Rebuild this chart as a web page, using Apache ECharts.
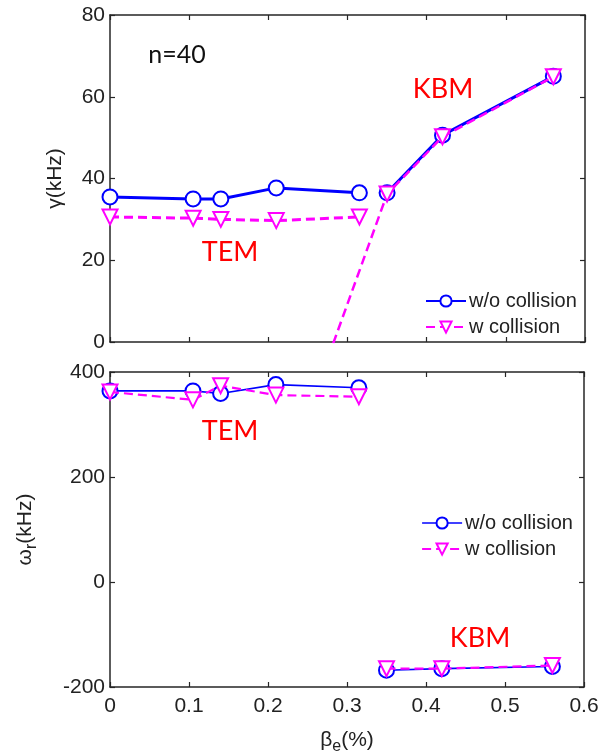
<!DOCTYPE html>
<html>
<head>
<meta charset="utf-8">
<script src="https://cdn.jsdelivr.net/npm/echarts@6/dist/echarts.min.js"></script>
<style>
  html, body { margin: 0; padding: 0; background: #fff; }
  #chart { width: 602px; height: 756px; }
</style>
</head>
<body>
<div id="chart"></div>
<script>
// beta_e (%) sampled for the two branches
const betaTEM = [0, 0.105, 0.14, 0.21, 0.315];
const betaKBM = [0.35, 0.42, 0.56];
// growth rate gamma (kHz)
const gammaNoColTEM = [35.5, 35.0, 35.0, 37.7, 36.5];
const gammaNoColKBM = [36.5, 50.6, 65.0];
const gammaColTEM = [30.6, 30.3, 30.0, 29.7, 30.6];
const gammaColLeadBeta = [0.21];   // stable point below the axis (line comes up from it)
const gammaColLead = [-39];
const gammaColKBM = [36.2, 50.2, 64.9];
// real frequency omega_r (kHz)
const omegaNoColTEM = [364, 364, 359, 376, 370];
const omegaNoColKBM = [-168, -165, -161];
const omegaColTEM = [362, 347, 374, 356, 353];
const omegaColKBM = [-165, -165, -159];
// ticks
const xTicks = [0, 0.1, 0.2, 0.3, 0.4, 0.5, 0.6];
const gammaTicks = [0, 20, 40, 60, 80];
const omegaTicks = [-200, 0, 200, 400];

const BLUE = '#0000ff';
const MAG = '#ff00ff';
const AXC = '#262626';
const NUMFONT = 'Liberation Sans';
const TXTFONT = 'Lato';

const pairs = (xs, ys) => xs.map((x, i) => [x, ys[i]]);

const chart = echarts.init(document.getElementById('chart'));

function xAx(grid, pos, showLabel) {
  return {
    type: 'value', gridIndex: grid, position: pos,
    min: xTicks[0], max: xTicks[xTicks.length - 1], interval: 0.1,
    axisLine: { show: true, onZero: false, lineStyle: { color: AXC, width: 1.5 } },
    axisTick: { show: true, inside: true, length: 5, lineStyle: { color: AXC, width: 1.2 } },
    axisLabel: { show: showLabel, color: '#222', fontSize: 21, fontFamily: NUMFONT, margin: 9 },
    splitLine: { show: false }
  };
}
function yAx(grid, pos, ticks, showLabel) {
  return {
    type: 'value', gridIndex: grid, position: pos,
    min: ticks[0], max: ticks[ticks.length - 1], interval: ticks[1] - ticks[0],
    axisLine: { show: true, onZero: false, lineStyle: { color: AXC, width: 1.5 } },
    axisTick: { show: true, inside: true, length: 5, lineStyle: { color: AXC, width: 1.2 } },
    axisLabel: { show: showLabel, color: '#222', fontSize: 21, fontFamily: NUMFONT, margin: 5 },
    splitLine: { show: false }
  };
}

const subRich = {
  a: { fontSize: 21, fontFamily: NUMFONT, color: '#222', lineHeight: 30 },
  s: { fontSize: 16, fontFamily: NUMFONT, color: '#222', lineHeight: 14, verticalAlign: 'bottom' }
};

const xAxes = [xAx(0, 'bottom', false), xAx(0, 'top', false), xAx(1, 'bottom', true), xAx(1, 'top', false)];
xAxes[2].name = '{a|β}{s|e}{a|(%)}';
xAxes[2].nameLocation = 'middle';
xAxes[2].nameGap = 38;
xAxes[2].nameTextStyle = { rich: subRich };

const yAxes = [yAx(0, 'left', gammaTicks, true), yAx(0, 'right', gammaTicks, false),
               yAx(1, 'left', omegaTicks, true), yAx(1, 'right', omegaTicks, false)];
yAxes[0].name = 'γ(kHz)';
yAxes[0].nameLocation = 'middle';
yAxes[0].nameGap = 44;
yAxes[0].nameTextStyle = { fontSize: 21, fontFamily: NUMFONT, color: '#222' };
yAxes[2].name = '{a|ω}{s|r}{a|(kHz)}';
yAxes[2].nameLocation = 'middle';
yAxes[2].nameGap = 70;
yAxes[2].nameTextStyle = { rich: subRich };

function blueSeries(data, grid, w) {
  return {
    name: 'w/o collision', type: 'line', xAxisIndex: grid * 2, yAxisIndex: grid * 2,
    data: data, symbol: 'emptyCircle', symbolSize: 15,
    lineStyle: { color: BLUE, width: w },
    itemStyle: { color: BLUE, borderColor: BLUE, borderWidth: w },
    clip: true, silent: true, z: 2
  };
}
function magSeries(data, grid, w) {
  return {
    name: 'w collision', type: 'line', xAxisIndex: grid * 2, yAxisIndex: grid * 2,
    data: data, symbol: 'emptyTriangle', symbolRotate: 180, symbolSize: 15,
    lineStyle: { color: MAG, width: w, type: [9, 5] },
    itemStyle: { color: MAG, borderColor: MAG, borderWidth: w },
    clip: true, silent: true, z: 3
  };
}

const series = [
  blueSeries(pairs(betaTEM, gammaNoColTEM), 0, 3),
  blueSeries(pairs(betaKBM, gammaNoColKBM), 0, 3),
  magSeries(pairs(betaTEM, gammaColTEM), 0, 3),
  magSeries(pairs(gammaColLeadBeta, gammaColLead).concat(pairs(betaKBM, gammaColKBM)), 0, 2.5),
  blueSeries(pairs(betaTEM, omegaNoColTEM), 1, 1.6),
  blueSeries(pairs(betaKBM, omegaNoColKBM), 1, 1.6),
  magSeries(pairs(betaTEM, omegaColTEM), 1, 2.2),
  magSeries(pairs(betaKBM, omegaColKBM), 1, 2.2)
];

function txt(text, x, y, size, color) {
  return {
    type: 'text', x: x, y: y, silent: true,
    style: { text: text, fill: color, font: size + 'px ' + TXTFONT, textAlign: 'center', textVerticalAlign: 'middle' }
  };
}

const legendText = { fontSize: 20, fontFamily: NUMFONT, color: '#222', padding: [0, 0, 0, -2] };

const option = {
  animation: false,
  backgroundColor: '#fff',
  grid: [
    { left: 110, right: 17, top: 15, height: 327 },
    { left: 110, right: 18, top: 372, height: 318 }
  ],
  xAxis: xAxes,
  yAxis: yAxes,
  legend: [
    {
      orient: 'vertical', left: 420, top: 286, itemWidth: 40, itemHeight: 14, itemGap: 6,
      textStyle: legendText,
      data: ['w/o collision', 'w collision']
    },
    {
      orient: 'vertical', left: 416, top: 508, itemWidth: 40, itemHeight: 14, itemGap: 6,
      textStyle: legendText,
      data: [
        { name: 'w/o collision', lineStyle: { width: 1.6 }, itemStyle: { borderWidth: 1.6 } },
        { name: 'w collision', lineStyle: { width: 2.2 }, itemStyle: { borderWidth: 2.2 } }
      ]
    }
  ],
  graphic: [
    txt('n=40', 177, 55, 25, '#111'),
    txt('TEM', 230, 252, 27, '#ff0000'),
    txt('KBM', 443, 89, 27, '#ff0000'),
    txt('TEM', 230, 431, 27, '#ff0000'),
    txt('KBM', 480, 638, 27, '#ff0000')
  ],
  series: series
};

chart.setOption(option);
</script>
</body>
</html>
